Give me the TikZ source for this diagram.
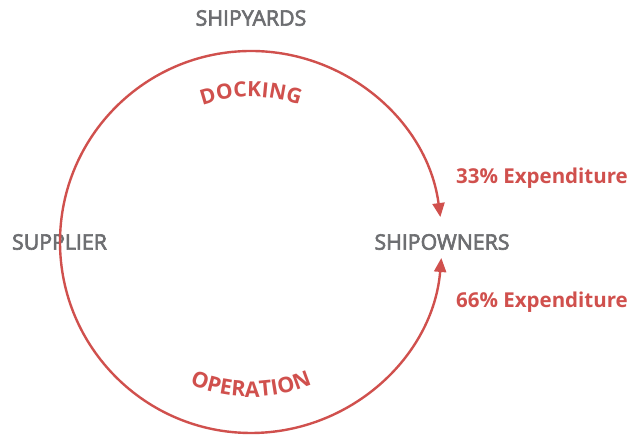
\documentclass[tikz,border=0pt]{standalone}
\usepackage{fontspec}
\setmainfont{Open Sans}
\newfontfamily\graysb[FakeBold=3]{Open Sans}
\usetikzlibrary{arrows.meta,decorations.text}
\definecolor{cred}{HTML}{D0504D}
\definecolor{cgray}{HTML}{6D6E71}
\begin{document}
\begin{tikzpicture}[x=1pt,y=1pt,
  graylabel/.style={text=cgray,font=\graysb\fontsize{21.3}{23}\selectfont,inner sep=0pt},
  redlabel/.style={text=cred,font=\bfseries\fontsize{20.5}{22}\selectfont,inner sep=0pt},
  ring/.style={draw=cred,line width=2.4pt,-{Triangle[length=14pt,width=12pt]}}]
\useasboundingbox (0,0) rectangle (635,435);
\coordinate (c) at (251,193);
\node[graylabel] (shipyards) at (251,417) {SHIPYARDS};
\node[graylabel] (supplier) at (59.5,193) {SUPPLIER};
\node[graylabel] (shipowners) at (442,193) {SHIPOWNERS};
\node[redlabel] (e33) at (542,257) {33\% Expenditure};
\node[redlabel] (e66) at (542,133) {66\% Expenditure};
\draw[ring] (c) ++(180:191) arc[start angle=180,end angle=7.5,radius=191];
\draw[ring] (c) ++(180:191) arc[start angle=180,end angle=355.2,radius=191];
\path[decorate,decoration={text along path,text align=center,
  text={|\color{cred}\bfseries\fontsize{21}{22}\selectfont|DOCKING}}]
  (c) ++(135:145) arc[start angle=135,end angle=45,radius=145];
\path[decorate,decoration={text along path,text align=center,
  text={|\color{cred}\bfseries\fontsize{21.5}{22}\selectfont|OPERATION}}]
  (c) ++(225:155) arc[start angle=225,end angle=315,radius=155];
\end{tikzpicture}
\end{document}
